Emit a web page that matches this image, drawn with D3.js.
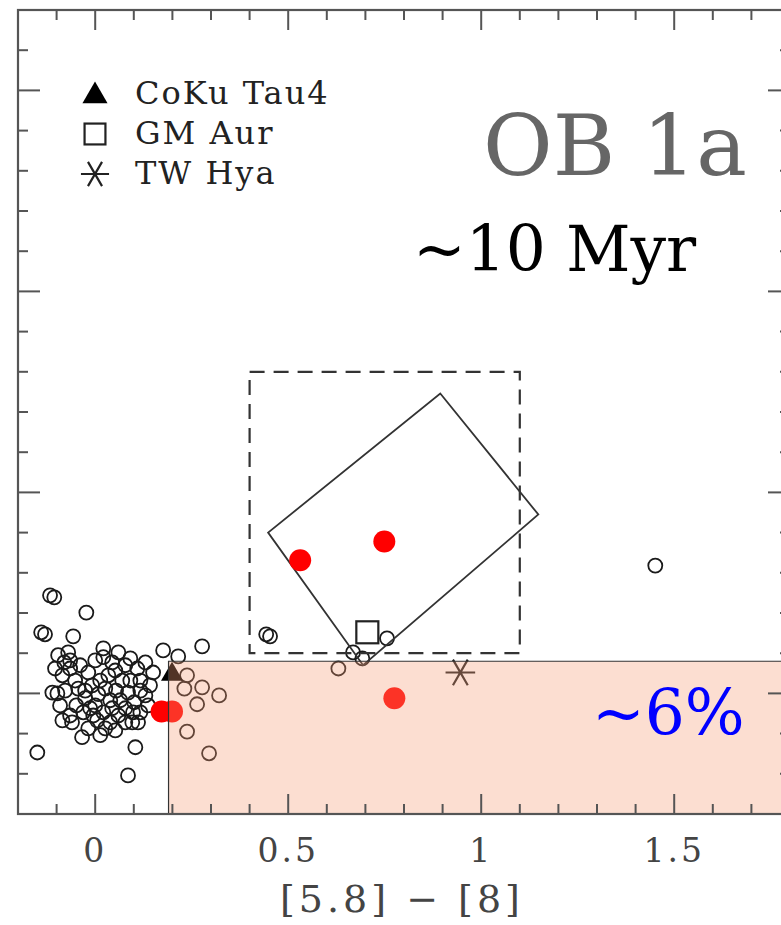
<!DOCTYPE html>
<html>
<head>
<meta charset="utf-8">
<script src="https://cdn.jsdelivr.net/npm/d3@7"></script>
<style>
  html, body { margin: 0; padding: 0; background: #fff; overflow: hidden; }
  svg { display: block; }
</style>
</head>
<body>
<div id="chart"></div>
<script>
// axis ranges and ticks
const xDomain = [-0.2, 1.8];
const yDomain = [-0.3, 1.7];
const xTickLabels = [0, 0.5, 1, 1.5];

// OB 1a members, open circles ([5.8]-[8], [3.6]-[4.5])
const starX = [-0.117, -0.106, -0.023, -0.140, -0.130, -0.057, 0.021, 0.176, 0.215, 0.277,
  0.443, 0.453, 1.451, 0.630, 0.668, 0.756, 0.692, -0.150, 0.104, 0.085,
  -0.085, 0.238, 0.277, 0.231, 0.321, 0.264, 0.238, 0.295, 0.150, -0.098,
  -0.034, 0.111,
  -0.096, -0.080, -0.070, -0.104, -0.065, -0.085, -0.111, -0.039, -0.018, 0.000,
  0.021, 0.044, 0.060, 0.078, 0.091, 0.109, 0.130, 0.117, -0.044, -0.026,
  -0.008, 0.008, 0.026, 0.039, 0.054, 0.070, 0.085, 0.101, 0.130, -0.049,
  -0.031, -0.013, 0.005, 0.021, 0.039, 0.060, 0.078, 0.096, 0.117, 0.137,
  -0.060, -0.018, 0.013, 0.052, -0.065,
  0.013, 0.034, 0.052, 0.065, 0.000, -0.026, 0.091, -0.052, -0.078, 0.117,
  0.078, 0.026, -0.091, 0.142, -0.065, 0.044, -0.005, 0.098];
const starY = [0.244, 0.239, 0.201, 0.152, 0.147, 0.142, 0.112, 0.107, 0.092, 0.117,
  0.147, 0.142, 0.318, 0.062, 0.102, 0.137, 0.087, -0.147, -0.134, -0.204,
  -0.067, 0.045, 0.015, 0.012, -0.005, -0.027, -0.095, -0.149, 0.052, 0.000,
  -0.109, -0.072,
  0.095, 0.077, 0.102, 0.062, 0.062, 0.045, 0.002, 0.070, 0.052, 0.082,
  0.090, 0.077, 0.102, 0.070, 0.087, 0.062, 0.077, 0.032, 0.012, -0.012,
  0.020, -0.002, 0.012, -0.017, 0.007, 0.032, 0.002, -0.022, -0.005, -0.030,
  -0.047, -0.037, -0.067, -0.047, -0.072, -0.055, -0.037, -0.072, -0.047, -0.030,
  -0.072, -0.087, -0.104, -0.092, -0.055,
  0.032, 0.045, 0.057, -0.017, -0.030, 0.007, 0.032, 0.032, 0.007, 0.007,
  -0.072, -0.087, -0.030, 0.020, 0.082, -0.037, -0.055, -0.047];

// transitional disk candidates, red dots
const tdX = [0.531, 0.749, 0.775, 0.172, 0.199];
const tdY = [0.331, 0.378, -0.012, -0.045, -0.045];

// reference objects
const refNames = ['CoKu Tau4', 'GM Aur', 'TW Hya'];
const refX = [0.199, 0.705, 0.946];
const refY = [0.052, 0.152, 0.052];

// boxes in data units
const dashBoxX = [0.4, 1.1];
const dashBoxY = [0.1, 0.8];
const slantX = [0.894, 1.148, 0.694, 0.448];
const slantY = [0.746, 0.445, 0.070, 0.400];
const shadeX0 = 0.19;
const shadeY0 = 0.08;

const W = 781, H = 925;
const margin = { top: 10, left: 18 };
const pxPerX = 386, pxPerY = 402;

const x = d3.scaleLinear().domain(xDomain)
  .range([margin.left, margin.left + pxPerX * (xDomain[1] - xDomain[0])]);
const y = d3.scaleLinear().domain(yDomain)
  .range([margin.top + pxPerY * (yDomain[1] - yDomain[0]), margin.top]);

const svg = d3.select('#chart').append('svg')
  .attr('width', W).attr('height', H);

const frameColor = '#555';
const [x0, x1] = x.range();
const [yb, yt] = y.range();

// points
const stars = starX.map((v, i) => ({ x: v, y: starY[i] }));
svg.append('g').selectAll('circle').data(stars).enter().append('circle')
  .attr('cx', d => x(d.x)).attr('cy', d => y(d.y)).attr('r', 7)
  .attr('fill', 'none').attr('stroke', '#1a1a1a').attr('stroke-width', 1.8);

// boxes
svg.append('rect')
  .attr('x', x(dashBoxX[0])).attr('y', y(dashBoxY[1]))
  .attr('width', x(dashBoxX[1]) - x(dashBoxX[0]))
  .attr('height', y(dashBoxY[0]) - y(dashBoxY[1]))
  .attr('fill', 'none').attr('stroke', '#333').attr('stroke-width', 2.2)
  .attr('stroke-dasharray', '15 9');

svg.append('polygon')
  .attr('points', slantX.map((v, i) => `${x(v)},${y(slantY[i])}`).join(' '))
  .attr('fill', 'none').attr('stroke', '#333').attr('stroke-width', 1.8);

const tds = tdX.map((v, i) => ({ x: v, y: tdY[i] }));
svg.append('g').selectAll('circle').data(tds).enter().append('circle')
  .attr('cx', d => x(d.x)).attr('cy', d => y(d.y)).attr('r', 11)
  .attr('fill', '#ff0000');

// reference symbols
function drawRef(g, i, px, py, scale) {
  if (i === 0) {
    g.append('path').attr('d', d3.symbol(d3.symbolTriangle, 210 * scale)())
      .attr('transform', `translate(${px},${py + 2})`).attr('fill', '#000');
  } else if (i === 1) {
    const s = 22 * Math.sqrt(scale);
    g.append('rect').attr('x', px - s / 2).attr('y', py - s / 2)
      .attr('width', s).attr('height', s)
      .attr('fill', 'none').attr('stroke', '#222').attr('stroke-width', 2.2);
  } else {
    g.append('path').attr('d', d3.symbol(d3.symbolAsterisk, 620 * scale)())
      .attr('transform', `translate(${px},${py}) rotate(90)`)
      .attr('fill', 'none').attr('stroke', '#222').attr('stroke-width', 2.2);
  }
}
const refG = svg.append('g');
refX.forEach((v, i) => drawRef(refG, i, x(v), y(refY[i]), 1));

// shaded region (overlay)
svg.append('rect')
  .attr('x', x(shadeX0)).attr('y', y(shadeY0))
  .attr('width', x1 - x(shadeX0)).attr('height', yb - y(shadeY0))
  .attr('fill', 'rgb(245,155,115)').attr('fill-opacity', 0.33);
svg.append('path')
  .attr('d', `M${x(shadeX0)},${yb}V${y(shadeY0)}H${x1}`)
  .attr('fill', 'none').attr('stroke', '#333').attr('stroke-width', 1.2);

// frame and ticks
svg.append('rect')
  .attr('x', x0).attr('y', yt).attr('width', x1 - x0).attr('height', yb - yt)
  .attr('fill', 'none').attr('stroke', frameColor).attr('stroke-width', 2.2);

const xMinor = d3.range(-1, 18).map(k => k / 10);
const yMinor = d3.range(-2, 17).map(k => k / 10);
const isMajor = v => Math.abs(v * 2 - Math.round(v * 2)) < 1e-6;
const tickG = svg.append('g').attr('stroke', frameColor).attr('stroke-width', 2);
xMinor.forEach(v => {
  const len = isMajor(v) ? 20 : 10;
  tickG.append('line').attr('x1', x(v)).attr('x2', x(v)).attr('y1', yb).attr('y2', yb - len);
  tickG.append('line').attr('x1', x(v)).attr('x2', x(v)).attr('y1', yt).attr('y2', yt + len);
});
yMinor.forEach(v => {
  const len = isMajor(v) ? 22 : 10;
  tickG.append('line').attr('x1', x0).attr('x2', x0 + len).attr('y1', y(v)).attr('y2', y(v));
  tickG.append('line').attr('x1', x1).attr('x2', x1 - len).attr('y1', y(v)).attr('y2', y(v));
});

// tick labels and axis title
const serif = 'DejaVu Serif, serif';
svg.append('g').selectAll('text').data(xTickLabels).enter().append('text')
  .attr('x', d => x(d)).attr('y', 862)
  .attr('text-anchor', 'middle').attr('font-family', serif)
  .attr('font-size', 33).attr('letter-spacing', 3).attr('fill', '#444')
  .text(d => d);

svg.append('text')
  .attr('x', 402).attr('y', 912).attr('text-anchor', 'middle')
  .attr('font-family', serif).attr('font-size', 38).attr('letter-spacing', 4)
  .attr('fill', '#444')
  .text('[5.8] \u2212 [8]');

// legend
const legG = svg.append('g');
refNames.forEach((name, i) => {
  const ly = 94 + i * 40;
  drawRef(legG, i, 95, ly, i === 0 ? 1.3 : 0.9);
  legG.append('text').attr('x', 135).attr('y', ly + 10)
    .attr('font-family', serif).attr('font-size', 32).attr('letter-spacing', 2)
    .attr('fill', '#222')
    .text(name);
});

// annotations
svg.append('text').attr('x', 483).attr('y', 175)
  .attr('font-family', serif).attr('font-size', 85).attr('fill', '#666')
  .text('OB 1a');
svg.append('text').attr('x', 413).attr('y', 271)
  .attr('font-family', serif).attr('font-size', 63).attr('fill', '#000')
  .text('~10 Myr');
svg.append('text').attr('x', 592).attr('y', 735)
  .attr('font-family', serif).attr('font-size', 63).attr('fill', '#0000ff')
  .text('~6%');
</script>
</body>
</html>
